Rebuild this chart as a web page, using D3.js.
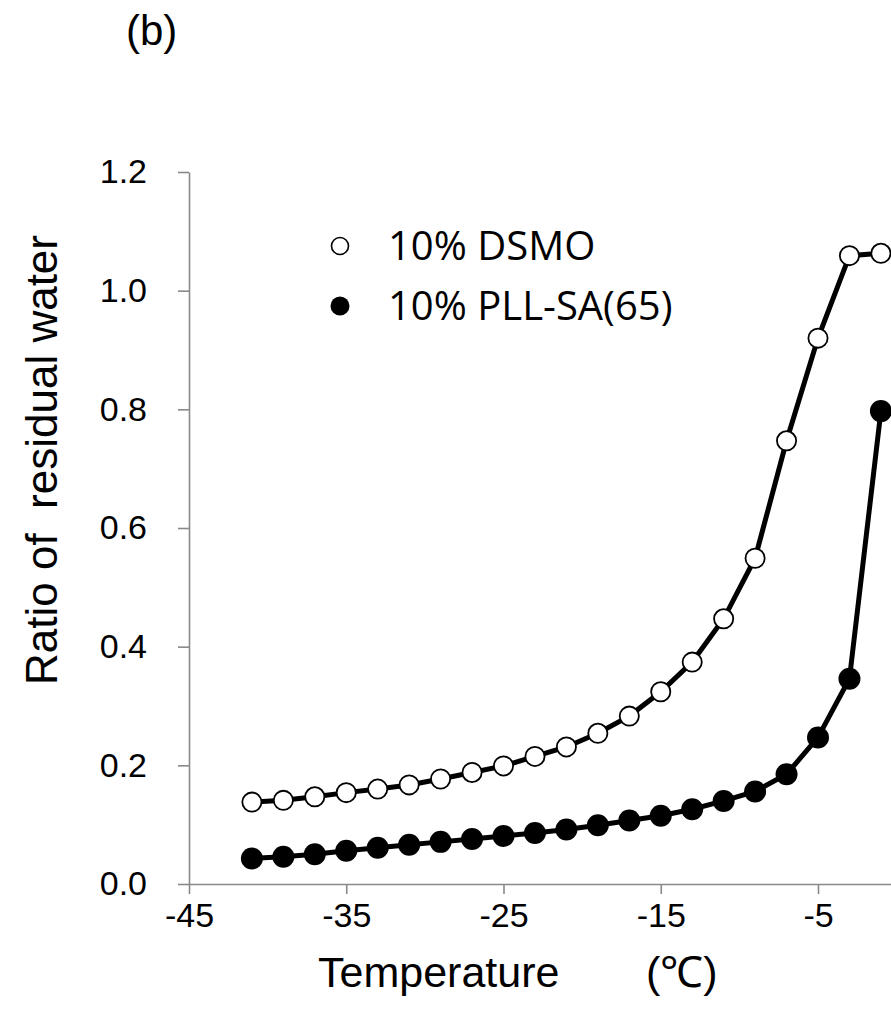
<html lang="en">
<head>
<meta charset="UTF-8"/>
<title>Ratio of residual water</title>
<script src="https://d3js.org/d3.v7.min.js"></script>
<style>
    body { margin: 0; background: #fff; }
    text { font-family: "Liberation Sans", Arial, sans-serif; fill: #000; }
    .legend text { font-family: "Open Sans", sans-serif; }
</style>
</head>
<body>
<script>
    // data
    var temps = [-41, -39, -37, -35, -33, -31, -29, -27, -25, -23, -21, -19, -17, -15, -13, -11, -9, -7, -5, -3, -1];
    var dmso = [0.138, 0.141, 0.147, 0.154, 0.160, 0.167, 0.177, 0.188, 0.199, 0.215, 0.231, 0.254, 0.283, 0.324, 0.374, 0.447, 0.549, 0.747, 0.920, 1.059, 1.063];
    var pll = [0.043, 0.046, 0.050, 0.056, 0.061, 0.066, 0.071, 0.076, 0.081, 0.086, 0.092, 0.099, 0.107, 0.115, 0.126, 0.140, 0.156, 0.185, 0.247, 0.346, 0.797];
    var xTicks = [-45, -35, -25, -15, -5];
    var yTicks = [0, 0.2, 0.4, 0.6, 0.8, 1.0, 1.2];
    var seriesNames = ["10% DSMO", "10% PLL-SA(65)"];

    var w = 891;
    var h = 1013;

    var svg = d3.select("body")
                .append("svg")
                .attr("width", w)
                .attr("height", h);

    var xScale = d3.scaleLinear()
                    .domain([-45, 5])
                    .range([189, 975.25]);

    var yScale = d3.scaleLinear()
                    .domain([0, 1.2])
                    .range([884, 172]);

    // X Axis
    var xAxis = d3.axisBottom(xScale)
                    .tickValues(xTicks)
                    .tickSize(10)
                    .tickSizeOuter(0)
                    .tickPadding(9)
                    .tickFormat(function(d) { return String(d); });
    var gx = svg.append("g")
        .attr("transform", "translate(0," + yScale(0) + ")")
        .call(xAxis);

    // Y Axis
    var yAxis = d3.axisLeft(yScale)
                    .tickValues(yTicks)
                    .tickSize(11)
                    .tickSizeOuter(0)
                    .tickPadding(31)
                    .tickFormat(d3.format(".1f"));
    var gy = svg.append("g")
        .attr("transform", "translate(" + xScale(-45) + ",0)")
        .call(yAxis);

    [gx, gy].forEach(function(g) {
        g.selectAll("path, line")
            .attr("stroke", "#898989")
            .attr("stroke-width", 1.6);
        g.selectAll("text")
            .attr("font-family", "Liberation Sans, Arial, sans-serif")
            .attr("font-size", 34)
            .attr("fill", "#000");
    });

    var line = d3.line()
        .x(function(d, i) { return xScale(temps[i]); })
        .y(function(d) { return yScale(d); });

    // DSMO series (open circles)
    svg.append("path")
        .datum(dmso)
        .attr("d", line)
        .attr("fill", "none")
        .attr("stroke", "#000")
        .attr("stroke-width", 5);

    svg.selectAll("circle.open")
        .data(dmso)
        .enter()
        .append("circle")
        .attr("class", "open")
        .attr("cx", function(d, i) { return xScale(temps[i]); })
        .attr("cy", function(d) { return yScale(d); })
        .attr("r", 9.6)
        .attr("fill", "#fff")
        .attr("stroke", "#000")
        .attr("stroke-width", 1.8);

    // PLL-SA series (filled circles)
    svg.append("path")
        .datum(pll)
        .attr("d", line)
        .attr("fill", "none")
        .attr("stroke", "#000")
        .attr("stroke-width", 5);

    svg.selectAll("circle.filled")
        .data(pll)
        .enter()
        .append("circle")
        .attr("class", "filled")
        .attr("cx", function(d, i) { return xScale(temps[i]); })
        .attr("cy", function(d) { return yScale(d); })
        .attr("r", 11)
        .attr("fill", "#000");

    // legend
    var legend = svg.append("g").attr("class", "legend");
    seriesNames.forEach(function(name, i) {
        var cy = 246 + i * 60;
        legend.append("circle")
            .attr("cx", 340)
            .attr("cy", cy)
            .attr("r", i == 0 ? 8.5 : 9.5)
            .attr("fill", i == 0 ? "#fff" : "#000")
            .attr("stroke", "#000")
            .attr("stroke-width", i == 0 ? 1.6 : 0);
        legend.append("text")
            .attr("x", 388)
            .attr("y", cy + 14)
            .attr("font-size", 40)
            .text(name);
    });

    // panel label
    svg.append("text")
        .attr("x", 126)
        .attr("y", 45)
        .attr("font-size", 42)
        .text("(b)");

    // X Axis Label
    svg.append("text")
        .attr("x", 318)
        .attr("y", 987)
        .attr("font-size", 43)
        .text("Temperature");
    svg.append("text")
        .attr("x", 646)
        .attr("y", 987)
        .attr("font-size", 43)
        .text("(\u2103)");

    // Y Axis Label
    svg.append("text")
        .attr("text-anchor", "middle")
        .attr("transform", "translate(57,460) rotate(-90)")
        .attr("font-size", 44)
        .style("white-space", "pre")
        .text("Ratio of  residual water");
</script>
</body>
</html>
